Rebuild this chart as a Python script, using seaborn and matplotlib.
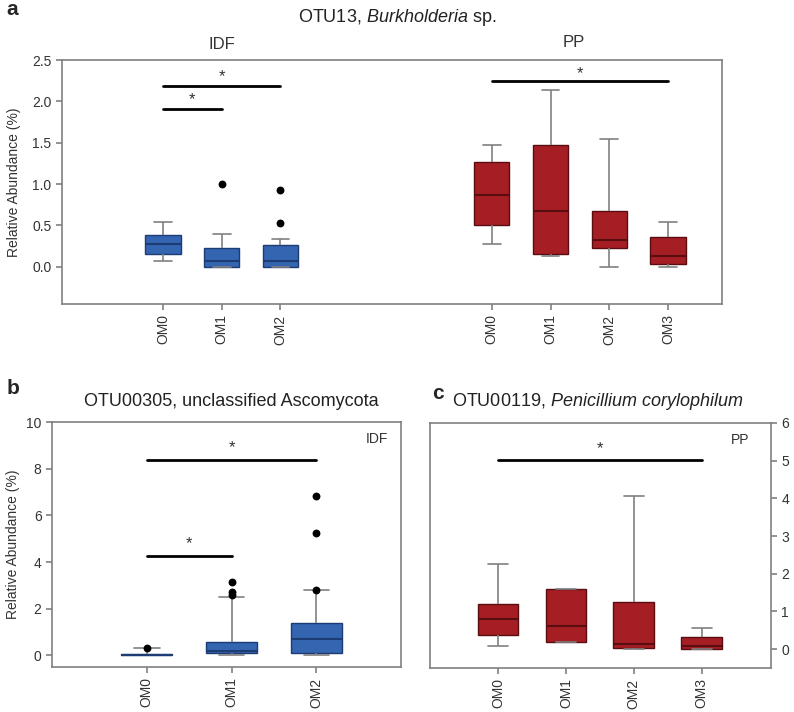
import numpy as np
import pandas as pd
import matplotlib
matplotlib.use("Agg")
import matplotlib.pyplot as plt
import matplotlib.transforms as mtransforms
import seaborn as sns

# ---- data (five-number summaries: low whisker, Q1, median, Q3, high whisker)
groups_idf = ["OM0", "OM1", "OM2"]
groups_pp = ["OM0", "OM1", "OM2", "OM3"]

# panel a: OTU13, Burkholderia sp.
a_idf_stats = [
    [0.065, 0.15, 0.27, 0.38, 0.54],
    [0.0, 0.0, 0.065, 0.23, 0.40],
    [0.0, 0.0, 0.065, 0.26, 0.34],
]
a_idf_outliers = [[], [1.0], [0.93, 0.53]]
a_pp_stats = [
    [0.27, 0.50, 0.87, 1.27, 1.47],
    [0.13, 0.16, 0.67, 1.47, 2.14],
    [0.0, 0.23, 0.33, 0.67, 1.54],
    [0.0, 0.03, 0.13, 0.36, 0.54],
]
a_pp_outliers = [[], [], [], []]
# significance bars: (from group, to group, level)
a_idf_sig = [(0, 2, 2.19), (0, 1, 1.91)]
a_pp_sig = [(0, 3, 2.25)]

# panel b: OTU00305, unclassified Ascomycota (IDF)
b_stats = [
    [0.0, 0.0, 0.02, 0.05, 0.30],
    [0.0, 0.10, 0.17, 0.56, 2.48],
    [0.0, 0.10, 0.70, 1.38, 2.80],
]
b_outliers = [[0.33], [2.6, 2.7, 3.13], [2.8, 5.26, 6.84]]
b_sig = [(0, 2, 8.39), (0, 1, 4.27)]

# panel c: OTU00119, Penicillium corylophilum (PP)
c_stats = [
    [0.09, 0.38, 0.81, 1.20, 2.26],
    [0.19, 0.19, 0.61, 1.59, 1.59],
    [0.0, 0.03, 0.14, 1.26, 4.07],
    [0.0, 0.0, 0.09, 0.31, 0.55],
]
c_outliers = [[], [], [], []]
c_sig = [(0, 3, 5.01)]

BLUE, BLUE_DARK = "#3465b0", "#1d3c73"
RED, RED_DARK = "#a51e24", "#5a0d11"
GRAY = "#808080"
TXT = "#333333"

sns.set_style("ticks")
plt.rcParams["font.family"] = ["Liberation Sans", "DejaVu Sans"]
plt.rcParams["mathtext.fontset"] = "custom"
plt.rcParams["mathtext.rm"] = "Liberation Sans"
plt.rcParams["mathtext.it"] = "Liberation Sans:italic"


def draw_boxes(ax, positions, stats, outliers, color, dark):
    # build a small long table: one row per summary value
    rows = [(p, v) for p, s in zip(positions, stats) for v in s]
    df = pd.DataFrame(rows, columns=["pos", "value"])
    sns.boxplot(data=df, x="pos", y="value", native_scale=True, width=0.6,
                whis=(0, 100), color=color, saturation=1, linewidth=1,
                showfliers=False, ax=ax,
                boxprops=dict(edgecolor=dark, linewidth=1),
                medianprops=dict(color=dark, linewidth=1.5),
                whiskerprops=dict(color=GRAY, linewidth=1.2),
                capprops=dict(color=GRAY, linewidth=1.2))
    ox = [p for p, o in zip(positions, outliers) for _ in o]
    oy = [v for o in outliers for v in o]
    if oy:
        sns.scatterplot(x=ox, y=oy, color="black", s=32, edgecolor="black",
                        linewidth=0, zorder=5, ax=ax)


def draw_sig(ax, positions, sig, star_off):
    for i, j, lvl in sig:
        ax.plot([positions[i], positions[j]], [lvl, lvl], color="black", lw=2, zorder=4)
        ax.text((positions[i] + positions[j]) / 2, lvl + star_off, "*",
                ha="center", va="center", fontsize=12, color=TXT)


def style_axes(ax, positions, labels, ylim, yticks, xlim, right=False):
    ax.set_xlim(*xlim)
    ax.set_ylim(*ylim)
    ax.set_xticks(positions)
    ax.set_xticklabels(labels, rotation=90, fontsize=10, color=TXT)
    ax.set_yticks(yticks)
    ax.set_xlabel("")
    ax.set_ylabel("")
    for sp in ax.spines.values():
        sp.set_visible(True)
        sp.set_color(GRAY)
        sp.set_linewidth(1.2)
    ax.tick_params(axis="both", colors=GRAY, labelcolor=TXT, labelsize=10,
                   length=4, width=1.2, direction="out")
    if right:
        ax.yaxis.tick_right()
        ax.yaxis.set_label_position("right")


fig = plt.figure(figsize=(7.94, 7.12), dpi=100)

# ---- panel a
ax_a = fig.add_axes([0.0781, 0.5730, 0.8312, 0.3427])
idf_pos = list(np.arange(len(groups_idf), dtype=float))
pp_pos = list(5.6 + np.arange(len(groups_pp), dtype=float))
draw_boxes(ax_a, idf_pos, a_idf_stats, a_idf_outliers, BLUE, BLUE_DARK)
draw_boxes(ax_a, pp_pos, a_pp_stats, a_pp_outliers, RED, RED_DARK)
draw_sig(ax_a, idf_pos, a_idf_sig, 0.11)
draw_sig(ax_a, pp_pos, a_pp_sig, 0.09)
style_axes(ax_a, idf_pos + pp_pos, groups_idf + groups_pp, (-0.45, 2.5),
           [0.0, 0.5, 1.0, 1.5, 2.0, 2.5], (-1.72, 9.52))
ax_a.yaxis.set_major_formatter(matplotlib.ticker.FormatStrFormatter("%.1f"))
ax_a.set_ylabel("Relative Abundance (%)", fontsize=10, color=TXT)
ax_a.yaxis.set_label_coords(-0.062, 0.5)
trans = mtransforms.blended_transform_factory(ax_a.transData, ax_a.transAxes)
ax_a.text(np.mean(idf_pos), 1.065, "IDF", transform=trans, ha="center", va="center",
          fontsize=12, color=TXT)
ax_a.text(np.mean(pp_pos) - 0.1, 1.07, "PP", transform=trans, ha="center", va="center",
          fontsize=12, color=TXT)

# ---- panel b
ax_b = fig.add_axes([0.0655, 0.0632, 0.4395, 0.3441])
b_pos = list(np.arange(len(groups_idf), dtype=float))
draw_boxes(ax_b, b_pos, b_stats, b_outliers, BLUE, BLUE_DARK)
draw_sig(ax_b, b_pos, b_sig, 0.5)
style_axes(ax_b, b_pos, groups_idf, (-0.5, 10), [0, 2, 4, 6, 8, 10], (-1.12, 3.0))
ax_b.set_ylabel("Relative Abundance (%)", fontsize=10, color=TXT)
ax_b.yaxis.set_label_coords(-0.092, 0.5)
ax_b.text(0.93, 0.93, "IDF", transform=ax_b.transAxes, ha="center", va="center",
          fontsize=10, color=TXT)

# ---- panel c
ax_c = fig.add_axes([0.5416, 0.0618, 0.4295, 0.3441])
c_pos = list(np.arange(len(groups_pp), dtype=float))
draw_boxes(ax_c, c_pos, c_stats, c_outliers, RED, RED_DARK)
draw_sig(ax_c, c_pos, c_sig, 0.3)
style_axes(ax_c, c_pos, groups_pp, (-0.5, 6), [0, 1, 2, 3, 4, 5, 6], (-1.0, 4.02), right=True)
ax_c.text(0.91, 0.93, "PP", transform=ax_c.transAxes, ha="center", va="center",
          fontsize=10, color=TXT)

# ---- titles and panel letters
fig.text(0.5, 0.976, r"OTU13, $\it{Burkholderia}$ sp.", ha="center", va="center",
         fontsize=13, color="#222222")
fig.text(0.291, 0.4354, "OTU00305, unclassified Ascomycota", ha="center", va="center",
         fontsize=13, color="#222222")
fig.text(0.753, 0.4354, r"OTU00119, $\it{Penicillium\ corylophilum}$", ha="center",
         va="center", fontsize=13, color="#222222")
fig.text(0.008, 0.987, "a", fontsize=15, fontweight="bold", ha="left", va="center")
fig.text(0.008, 0.454, "b", fontsize=15, fontweight="bold", ha="left", va="center")
fig.text(0.544, 0.448, "c", fontsize=15, fontweight="bold", ha="left", va="center")

fig.savefig("out.png", dpi=100)
